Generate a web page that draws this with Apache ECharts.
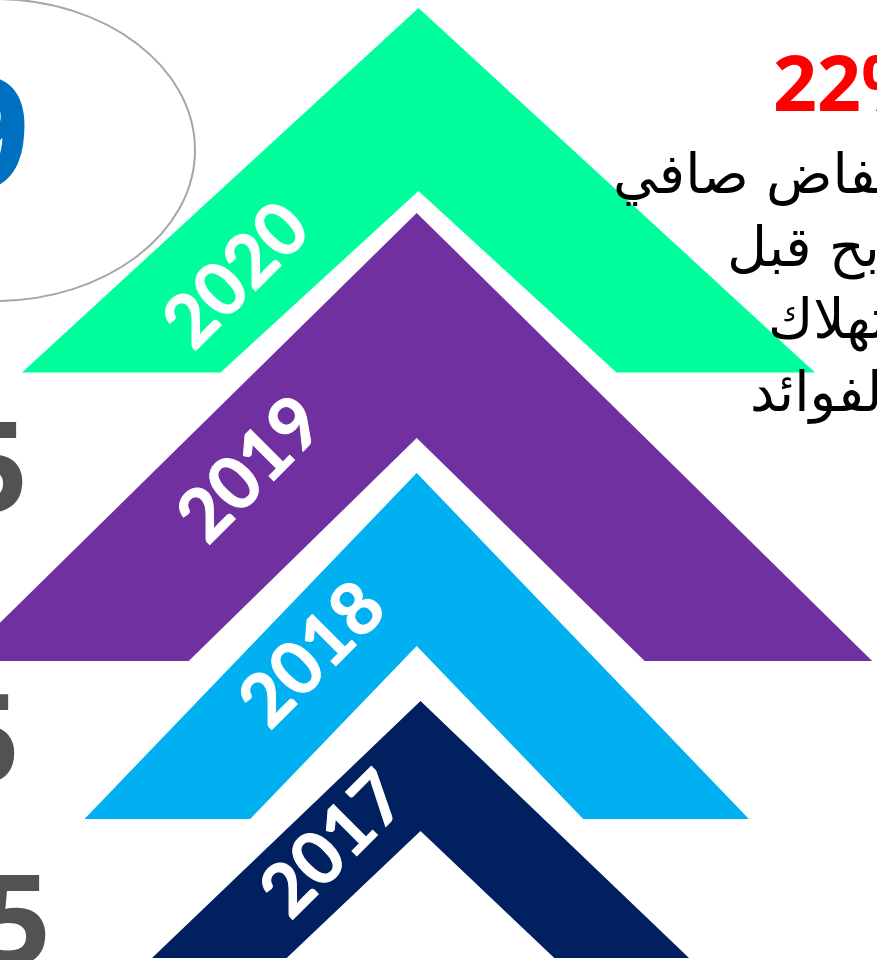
<!DOCTYPE html>
<html>
<head>
<meta charset="utf-8">
<script src="https://cdn.jsdelivr.net/npm/echarts@6/dist/echarts.min.js"></script>
<style>
  html, body { margin: 0; padding: 0; background: #fff; }
  #main { width: 877px; height: 960px; }
</style>
</head>
<body>
<div id="main"></div>
<script>
// chevrons, top to bottom (values on hidden 0..877 / 0..960 axes)
var years = ['2020', '2019', '2018', '2017'];
var apexX = [418.5, 416.7, 416.7, 420.5];
var outerApexY = [8, 213, 473, 701];
var innerApexY = [191, 438, 646, 831];
var baseY = [372.5, 661, 819, 958];
var outerHalfWidth = [396.5, 455.5, 332.2, 268.5];
var innerHalfWidth = [198, 228, 166.5, 133.8];

// ellipse on the left: centre x, centre y, radius x, radius y
var ellipseValues = [-5, 150, 200, 151];

// cut-off texts at the edges
var sideDigits = ['9', '5', '5', '5'];
var percentText = '22%';
var captionLines = ['انخفاض صافي', 'الربح قبل', 'الاستهلاك', 'والفوائد'];

// styles / layout
var chevronColors = ['#00FF9C', '#7030A0', '#00B0F0', '#002060'];
var labelCenters = [[237, 276], [251, 470], [313, 655], [334, 845]];

var chart = echarts.init(document.getElementById('main'), null, { renderer: 'canvas' });

function renderChevron(params, api) {
  var i = params.dataIndex;
  var ax = apexX[i];
  var pts = [
    [ax - outerHalfWidth[i], baseY[i]],
    [ax, outerApexY[i]],
    [ax + outerHalfWidth[i], baseY[i]],
    [ax + innerHalfWidth[i], baseY[i]],
    [ax, innerApexY[i]],
    [ax - innerHalfWidth[i], baseY[i]]
  ].map(function (p) { return api.coord(p); });
  var c = api.coord(labelCenters[i]);
  return {
    type: 'group',
    children: [
      {
        type: 'polygon',
        shape: { points: pts },
        style: { fill: chevronColors[i], stroke: null }
      },
      {
        type: 'text',
        x: c[0],
        y: c[1],
        rotation: Math.PI / 4,
        style: {
          text: years[i],
          fill: '#fff',
          font: 'bold 73px Lato',
          align: 'center',
          verticalAlign: 'middle',
          textAlign: 'center',
          textVerticalAlign: 'middle',
          stroke: '#fff',
          lineWidth: 1
        }
      }
    ]
  };
}

function renderEllipse(params, api) {
  var c = api.coord([ellipseValues[0], ellipseValues[1]]);
  var s = api.size([ellipseValues[2], ellipseValues[3]]);
  return {
    type: 'ellipse',
    shape: { cx: c[0], cy: c[1], rx: s[0], ry: s[1] },
    style: { fill: null, stroke: '#A6A6A6', lineWidth: 2 }
  };
}

function txt(text, x, y, font, color, align) {
  return {
    type: 'text',
    x: x,
    y: y,
    z: 10,
    style: {
      text: text,
      fill: color,
      font: font,
      textAlign: align,
      align: align,
      textVerticalAlign: 'middle',
      verticalAlign: 'middle'
    }
  };
}

var option = {
  animation: false,
  backgroundColor: '#fff',
  grid: { left: 0, right: 0, top: 0, bottom: 0 },
  xAxis: { type: 'value', min: 0, max: 877, show: false },
  yAxis: { type: 'value', min: 0, max: 960, inverse: true, show: false },
  series: [
    {
      type: 'custom',
      renderItem: renderEllipse,
      data: [0],
      z: 1,
      silent: true
    },
    {
      type: 'custom',
      renderItem: renderChevron,
      data: years.map(function (y, i) { return i; }),
      z: 2,
      silent: true
    }
  ],
  graphic: {
    elements: [
      txt(sideDigits[0], 30, 146, 'bold 158px "Open Sans"', '#0070C0', 'right'),
      txt(sideDigits[1], 28, 476, 'bold 126px "Open Sans"', '#525252', 'right'),
      txt(sideDigits[2], 20, 748, 'bold 124px "Open Sans"', '#525252', 'right'),
      txt(sideDigits[3], 51, 929, 'bold 126px "Open Sans"', '#525252', 'right'),
      txt(percentText, 773, 89, 'bold 77px "Open Sans"', '#FF0000', 'left'),
      txt(captionLines[0], 613, 179, '55px "DejaVu Sans"', '#000', 'left'),
      txt(captionLines[1], 727, 252, '55px "DejaVu Sans"', '#000', 'left'),
      txt(captionLines[2], 768, 324, '55px "DejaVu Sans"', '#000', 'left'),
      txt(captionLines[3], 750, 397, '55px "DejaVu Sans"', '#000', 'left')
    ]
  }
};

chart.setOption(option);
</script>
</body>
</html>
